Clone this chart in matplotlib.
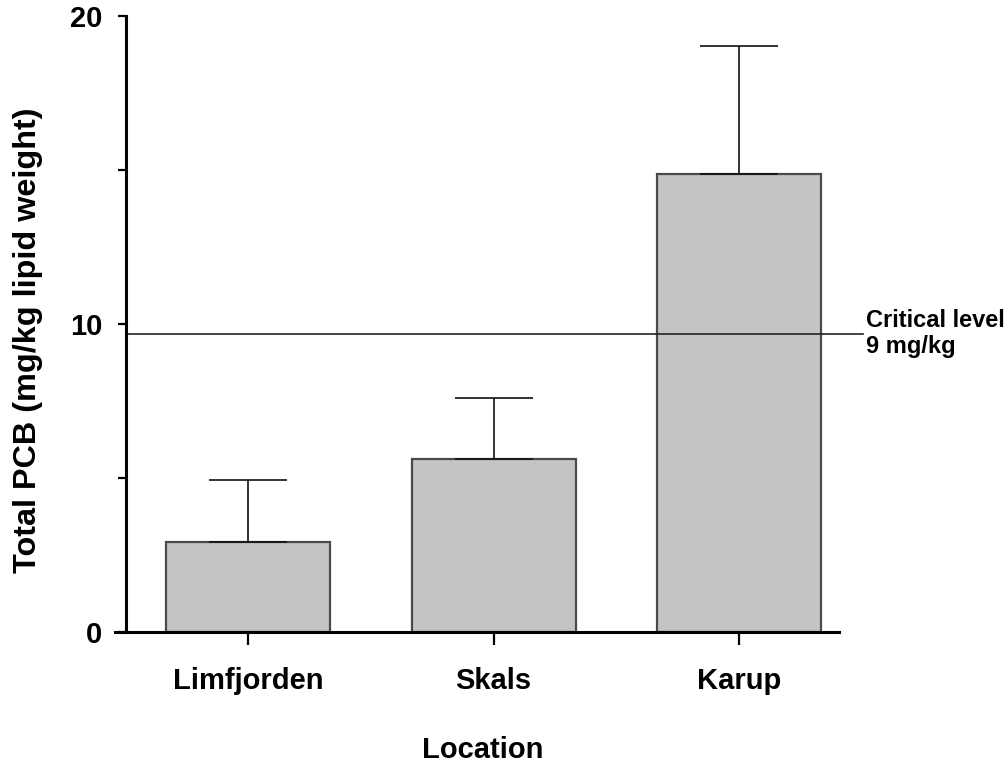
import matplotlib
matplotlib.use("Agg")
import matplotlib.pyplot as plt
import numpy as np

categories = ["Limfjorden", "Skals", "Karup"]
means = [2.92, 5.62, 14.87]
err_upper = [2.02, 1.98, 4.16]
critical_level = 9.68
yticks_major = [0, 5, 10, 15, 20]
ytick_labels = ["0", "", "10", "", "20"]

plt.rcParams['font.family'] = ['Liberation Sans', 'DejaVu Sans']
plt.rcParams['font.weight'] = 'bold'

fig = plt.figure(figsize=(10.06, 7.65), dpi=100)
ax = fig.add_axes([115/1006, 133/765, (839-115)/1006, 616/765])

x = np.arange(len(categories))
ax.bar(x, means, width=0.668, color='#c4c4c4', edgecolor='#4a4a4a', linewidth=1.6, zorder=2)
ax.errorbar(x, means, yerr=[np.zeros(len(means)), err_upper], fmt='none',
            ecolor='#111111', elinewidth=1.2, capsize=28, capthick=1.2, zorder=3)

ax.set_xlim(-0.542, 2.407)
ax.set_ylim(0, 20)

ax.spines['top'].set_visible(False)
ax.spines['right'].set_visible(False)
ax.spines['left'].set_position(('data', -0.497))
ax.spines['left'].set_linewidth(2.2)
ax.spines['bottom'].set_linewidth(2.2)
ax.spines['left'].set_zorder(4)
ax.spines['bottom'].set_zorder(4)

ax.set_yticks(yticks_major)
ax.set_yticklabels(ytick_labels, fontsize=21, fontweight='bold')
ax.tick_params(axis='y', direction='out', length=6, width=1.6, pad=11)
ax.set_xticks(x)
ax.set_xticklabels(categories, fontsize=21, fontweight='bold')
ax.tick_params(axis='x', direction='out', length=9, width=1.6, pad=16)

# critical level line
ax.plot([-0.497, 2.505], [critical_level, critical_level], color='#222222',
        linewidth=1.2, clip_on=False, zorder=3)
ax.text(2.517, critical_level + 0.05, "Critical level", fontsize=17, fontweight='bold',
        va='bottom', ha='left', clip_on=False)
ax.text(2.517, critical_level - 0.05, "9 mg/kg", fontsize=17, fontweight='bold',
        va='top', ha='left', clip_on=False)

ax.set_ylabel("Total PCB (mg/kg lipid weight)", fontsize=23.3, fontweight='bold')
ax.yaxis.set_label_coords(-0.100, 0.474)
ax.set_xlabel("Location", fontsize=21, fontweight='bold')
ax.xaxis.set_label_coords(0.508, -0.192)
ax.xaxis.label.set_verticalalignment('center')

fig.savefig("out.png", dpi=100)
